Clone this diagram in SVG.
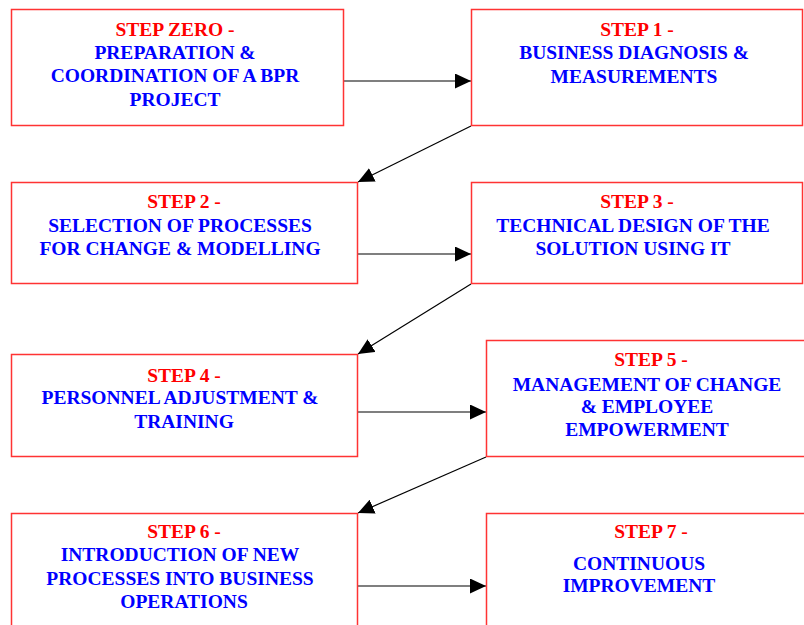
<svg xmlns="http://www.w3.org/2000/svg" width="804" height="625" viewBox="0 0 804 625">
<defs>
<marker id="ah" markerUnits="userSpaceOnUse" markerWidth="16" markerHeight="15" refX="16" refY="7.5" orient="auto">
<path d="M0,0 L16,7.5 L0,15 z" fill="#000"/>
</marker>
<style>
.box{fill:#fff;stroke:#ff3333;stroke-width:1.5}
text{font-family:"Liberation Serif","Times New Roman",serif;font-weight:bold;font-size:19.5px;text-anchor:middle}
.s{fill:#ff0000}
.b{fill:#0000ff}
.c{stroke:#000;stroke-width:1.2;fill:none;marker-end:url(#ah)}
</style>
</defs>
<rect width="804" height="625" fill="#fff"/>
<g id="connectors">
<line class="c" x1="343" y1="81" x2="471" y2="81"/>
<line class="c" x1="471" y1="126" x2="358" y2="182"/>
<line class="c" x1="357" y1="254" x2="471" y2="254"/>
<line class="c" x1="471" y1="284" x2="358" y2="354"/>
<line class="c" x1="357" y1="412" x2="486" y2="412"/>
<line class="c" x1="486" y1="457" x2="358" y2="513"/>
<line class="c" x1="357" y1="586" x2="486" y2="586"/>
</g>
<g id="step0">
<rect class="box" x="11.5" y="9.5" width="332" height="116"/>
<text class="s" x="175" y="36">STEP ZERO -</text>
<text class="b" x="175" y="59">PREPARATION &amp;</text>
<text class="b" x="175" y="82">COORDINATION OF A BPR</text>
<text class="b" x="175" y="106">PROJECT</text>
</g>
<g id="step1">
<rect class="box" x="471.5" y="9.5" width="331" height="116"/>
<text class="s" x="637" y="36">STEP 1 -</text>
<text class="b" x="634" y="59">BUSINESS DIAGNOSIS &amp;</text>
<text class="b" x="634" y="83">MEASUREMENTS</text>
</g>
<g id="step2">
<rect class="box" x="11.5" y="182.5" width="346" height="101"/>
<text class="s" x="184" y="208">STEP 2 -</text>
<text class="b" x="180" y="232">SELECTION OF PROCESSES</text>
<text class="b" x="180" y="255">FOR CHANGE &amp; MODELLING</text>
</g>
<g id="step3">
<rect class="box" x="471.5" y="182.5" width="331" height="101"/>
<text class="s" x="637" y="208">STEP 3 -</text>
<text class="b" x="633" y="232">TECHNICAL DESIGN OF THE</text>
<text class="b" x="633" y="255">SOLUTION USING IT</text>
</g>
<g id="step4">
<rect class="box" x="11.5" y="354.5" width="346" height="102"/>
<text class="s" x="184" y="382">STEP 4 -</text>
<text class="b" x="180" y="404">PERSONNEL ADJUSTMENT &amp;</text>
<text class="b" x="184" y="428">TRAINING</text>
</g>
<g id="step5">
<rect class="box" x="486.5" y="340.5" width="330" height="116"/>
<text class="s" x="651" y="366">STEP 5 -</text>
<text class="b" x="647" y="391">MANAGEMENT OF CHANGE</text>
<text class="b" x="647" y="413">&amp; EMPLOYEE</text>
<text class="b" x="647" y="436">EMPOWERMENT</text>
</g>
<g id="step6">
<rect class="box" x="11.5" y="513.5" width="346" height="120"/>
<text class="s" x="184" y="538">STEP 6 -</text>
<text class="b" x="180" y="561">INTRODUCTION OF NEW</text>
<text class="b" x="180" y="585">PROCESSES INTO BUSINESS</text>
<text class="b" x="184" y="608">OPERATIONS</text>
</g>
<g id="step7">
<rect class="box" x="486.5" y="513.5" width="330" height="120"/>
<text class="s" x="651" y="538">STEP 7 -</text>
<text class="b" x="639" y="570">CONTINUOUS</text>
<text class="b" x="639" y="592">IMPROVEMENT</text>
</g>
</svg>
